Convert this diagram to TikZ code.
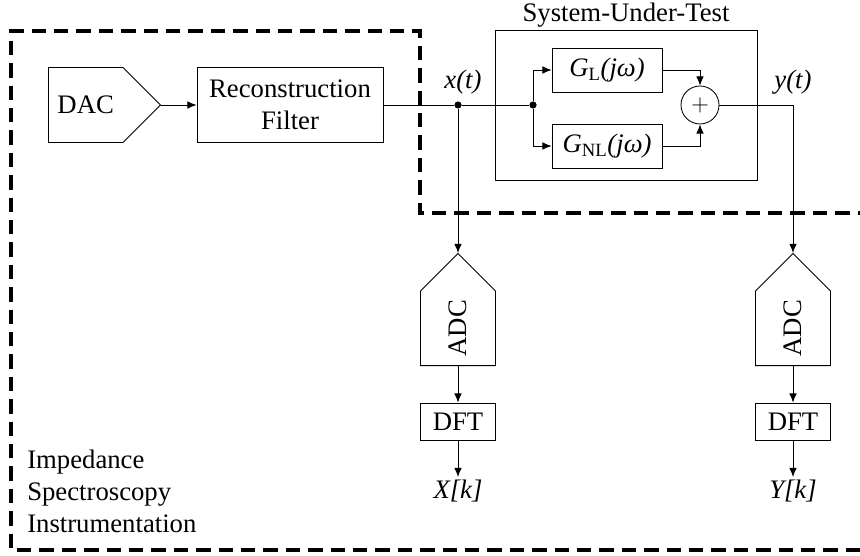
\documentclass[tikz,border=0pt]{standalone}
\usepackage{fontspec}
\setmainfont{Liberation Serif}
\usetikzlibrary{shapes.symbols,arrows.meta}

\newcommand{\diagfont}{\fontsize{19}{23}\selectfont}

\begin{document}
\begin{tikzpicture}[
	font=\diagfont,
	block/.style={
		draw, rectangle, line width=0.6pt,
		minimum width=1.875cm, minimum height=0.925cm,
		align=center, inner sep=2pt
	},
	conv/.style={
		draw, signal, signal to=east, signal pointer angle=90, line width=0.6pt,
		minimum width=2.8cm, minimum height=1.875cm, inner sep=2pt
	},
	sumnode/.style={draw, circle, line width=0.6pt, minimum size=0.95cm, inner sep=0pt},
	dot/.style={circle, fill, minimum size=0.18cm, inner sep=0pt},
	edge/.style={-{Latex[length=2.3mm, width=1.9mm]}, line width=0.6pt},
	wire/.style={line width=0.6pt},
	lbl/.style={font=\diagfont\itshape, inner sep=2pt},
	border/.style={line width=2.8pt, dash pattern=on 0.36cm off 0.2cm},
	]

	\useasboundingbox (0, 0) rectangle (21.5, 13.875);

	% instrumentation boundary, open to the right
	\coordinate (bR1) at (21.8, 8.55);
	\coordinate (bC1) at (10.5, 8.55);
	\coordinate (bC2) at (10.5, 13.1);
	\coordinate (bTL) at (0.275, 13.1);
	\coordinate (bBL) at (0.275, 0.125);
	\coordinate (bR2) at (21.8, 0.125);
	\draw[border] (bR1) -- (bC1) -- (bC2) -- (bTL) -- (bBL) -- (bR2);

	\node[conv, anchor=west] (dac)   at (1.2, 11.25)  {DAC};
	\node[block, minimum width=4.65cm, minimum height=1.875cm]
	                        (recon) at (7.25, 11.25) {Reconstruction\\Filter};
	\node[dot]              (xj)    at (11.45, 11.25) {};
	\node[dot]              (sj)    at (13.325, 11.25) {};

	\node[block, minimum width=6.55cm, minimum height=3.75cm] (sut) at (15.65, 11.25) {};
	\node[anchor=south, inner sep=1.5pt] (suttitle) at (sut.north) {System-Under-Test};

	\node[block, minimum width=2.75cm, minimum height=1.1cm] (gl)  at (15.175, 12.125)
		{\textit{G}\textsubscript{L}\textit{(jω)}};
	\node[block, minimum width=2.75cm, minimum height=1.1cm] (gnl) at (15.175, 10.225)
		{\textit{G}\textsubscript{NL}\textit{(jω)}};
	\node[sumnode] (sum) at (17.5, 11.25) {$+$};

	\node[lbl] (xt) at (11.575, 11.825) {x(t)};
	\node[lbl] (yt) at (19.825, 11.825) {y(t)};

	\node[conv, rotate=90, anchor=west] (adcx) at (11.45, 4.725)  {ADC};
	\node[conv, rotate=90, anchor=west] (adcy) at (19.825, 4.725) {ADC};
	\node[block] (dftx) at (11.45, 3.3375)  {DFT};
	\node[block] (dfty) at (19.825, 3.3375) {DFT};
	\node[lbl, anchor=north] (xk) at (11.45, 1.95)  {X[k]};
	\node[lbl, anchor=north] (yk) at (19.825, 1.95) {Y[k]};

	\node[anchor=north west, align=left, inner sep=0pt] (instr) at (0.675, 2.64)
		{Impedance\\Spectroscopy\\Instrumentation};

	\draw[edge] (dac.east) -- (recon);
	\draw[wire] (recon) -- (xj) -- (sj);
	\draw[edge] (sj) |- (gl);
	\draw[edge] (sj) |- (gnl);
	\draw[edge] (gl) -| (sum);
	\draw[edge] (gnl) -| (sum);
	% output routed down to the second converter
	\draw[edge] (sum) -| (adcy.east);
	\draw[edge] (xj) -- (adcx.east);

	\draw[edge] (adcx.west) -- (dftx);
	\draw[edge] (adcy.west) -- (dfty);
	\draw[edge] (dftx) -- (xk);
	\draw[edge] (dfty) -- (yk);

\end{tikzpicture}
\end{document}
